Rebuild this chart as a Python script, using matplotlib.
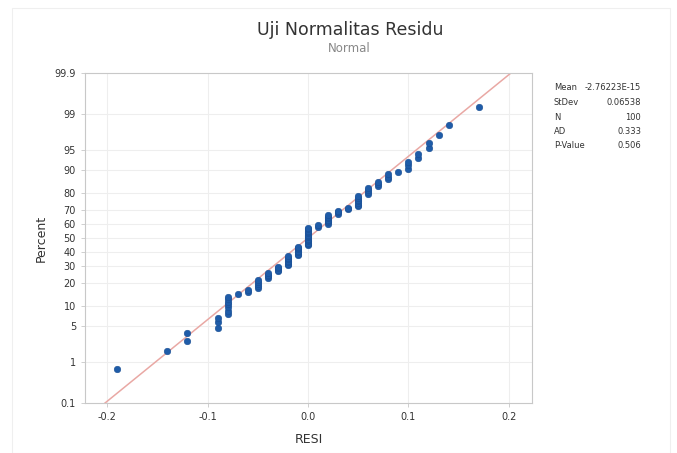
import matplotlib
matplotlib.use('Agg')
import matplotlib.pyplot as plt
from matplotlib.patches import Rectangle
from statistics import NormalDist
import numpy as np

# residual clusters (value, how many points sit there)
resi_werte = [-0.190, -0.140, -0.120, -0.090, -0.080, -0.070, -0.060, -0.050, -0.040,
              -0.030, -0.020, -0.010, 0.000, 0.010, 0.020, 0.030, 0.040, 0.050,
              0.060, 0.070, 0.080, 0.090, 0.100, 0.110, 0.120, 0.130, 0.140, 0.170]
resi_anzahl = [1, 1, 2, 3, 7, 1, 2, 5, 4,
               4, 7, 7, 14, 2, 7, 3, 2, 7,
               4, 3, 3, 1, 3, 2, 2, 1, 1, 1]

# stats box
mean_val = -2.76223e-15
stdev_val = 0.06538
stat_namen = ['Mean', 'StDev', 'N', 'AD', 'P-Value']
stat_texte = ['-2.76223E-15', '0.06538', '100', '0.333', '0.506']

y_ticks = [0.1, 1, 5, 10, 20, 30, 40, 50, 60, 70, 80, 90, 95, 99, 99.9]
y_ticklabels = ['0.1', '1', '5', '10', '20', '30', '40', '50', '60', '70', '80', '90', '95', '99', '99.9']
x_ticks = [-0.2, -0.1, 0.0, 0.1, 0.2]

nd = NormalDist()


def z(p):
    return nd.inv_cdf(p / 100.0)


resi = np.sort(np.repeat(resi_werte, resi_anzahl))
rang = np.arange(1, len(resi) + 1)
prozent = (rang - 0.3) / (len(resi) + 0.4) * 100   # Minitab median ranks
y_pts = [z(p) for p in prozent]

fig = plt.figure(figsize=(6.77, 4.53), dpi=100)
W, H = 677, 453
ax = fig.add_axes([85 / W, 1 - 403 / H, (532 - 85) / W, (403 - 73) / H])

# outer faint frame
fig.patches.append(Rectangle((12 / W, 0), (670 - 12) / W, 1 - 8 / H, transform=fig.transFigure,
                             fill=False, edgecolor='#efefef', linewidth=0.8))

# fitted line from mean/stdev
x_line = [mean_val + stdev_val * z(0.1), mean_val + stdev_val * z(99.9)]
ax.plot(x_line, [z(0.1), z(99.9)], color='#e9a8a4', linewidth=1.1, zorder=2)

ax.scatter(resi, y_pts, s=22, color='#1f5ca8', edgecolors='#1a4f94', linewidths=0.4, zorder=3)

ax.set_xlim(-0.222, 0.223)
ax.set_ylim(z(0.1), z(99.9))
ax.set_yticks([z(p) for p in y_ticks])
ax.set_yticklabels(y_ticklabels)
ax.set_xticks(x_ticks)
ax.set_xticklabels(['-0.2', '-0.1', '0.0', '0.1', '0.2'])
ax.grid(True, color='#eeeeee', linewidth=0.8)
ax.set_axisbelow(True)
for s in ax.spines.values():
    s.set_color('#c8c8c8')
    s.set_linewidth(0.8)
ax.tick_params(axis='both', labelsize=7, colors='#c8c8c8', labelcolor='#333333', length=3, width=0.6)

ax.set_xlabel('RESI', fontsize=9, color='#333333', labelpad=8)
ax.set_ylabel('Percent', fontsize=9, color='#333333', labelpad=5)

fig.text(350 / W, 1 - 30 / H, 'Uji Normalitas Residu', ha='center', va='center', fontsize=12.5, color='#333333')
fig.text(349 / W, 1 - 48 / H, 'Normal', ha='center', va='center', fontsize=8.5, color='#888888')

for i, (name, txt) in enumerate(zip(stat_namen, stat_texte)):
    y = 1 - (88 + i * 14.5) / H
    fig.text(554 / W, y, name, ha='left', va='center', fontsize=6, color='#333333')
    fig.text(641 / W, y, txt, ha='right', va='center', fontsize=6, color='#333333')

fig.savefig('out.png', dpi=100)
